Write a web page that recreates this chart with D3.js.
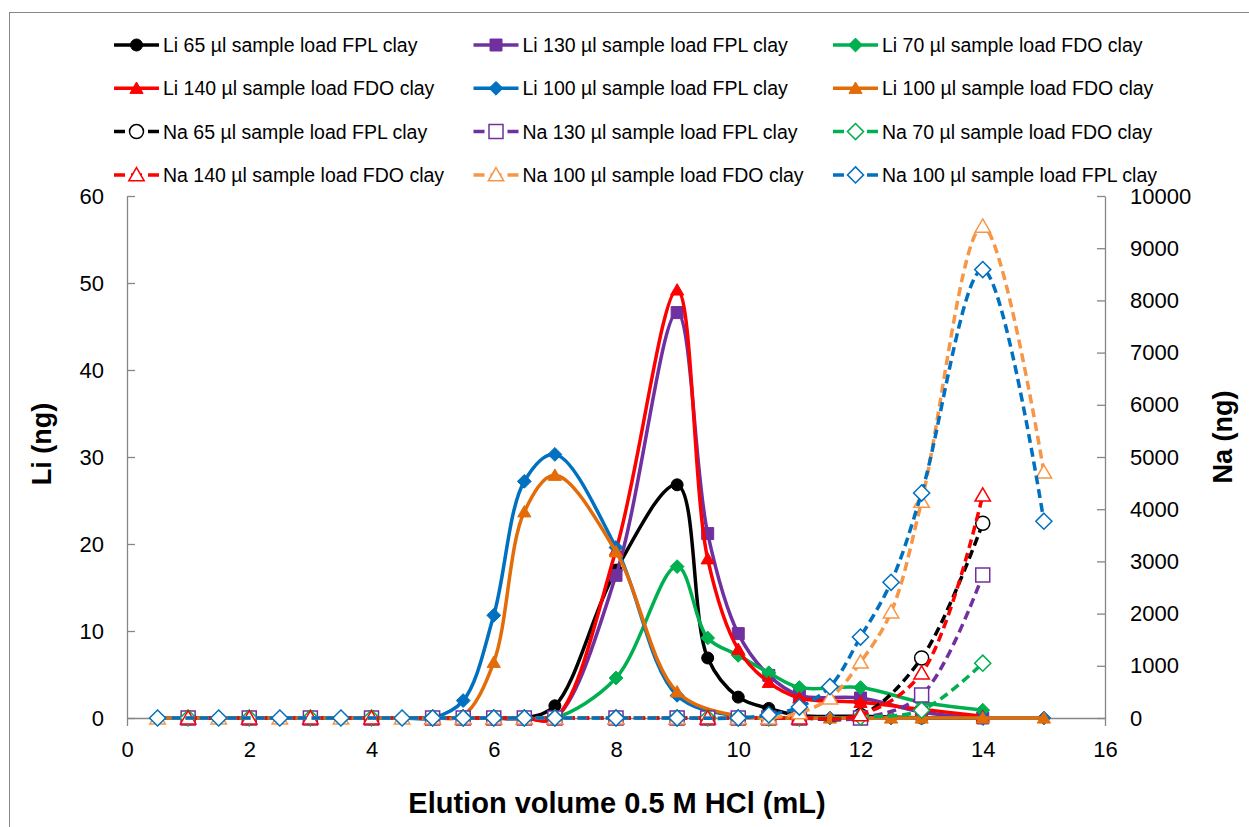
<!DOCTYPE html>
<html>
<head>
<meta charset="utf-8">
<script src="https://cdn.jsdelivr.net/npm/d3@7"></script>
<style>
    body { margin: 0; background: #fff; }
    svg { font-family: "Liberation Sans", Arial, sans-serif; }
</style>
</head>
<body>
<svg width="1249" height="827"></svg>
<script>
// elution volume grids (mL)
var xFrac = [1, 2, 3, 4, 5, 5.5, 6, 6.5, 7, 8, 9, 9.5, 10, 10.5, 11, 12, 13, 14];
var xFrac100 = [0.5, 1.5, 2.5, 3.5, 4.5, 5, 5.5, 6, 6.5, 7, 8, 9, 10, 10.5, 11, 11.5, 12, 12.5, 13, 14, 15];

// Li (ng)
var li65FPL = [0, 0, 0, 0, 0, 0, 0, 0, 1.4, 17, 26.8, 6.9, 2.4, 1.1, 0.3, 0.2, 0, 0];
var li130FPL = [0, 0, 0, 0, 0, 0, 0, 0, 0, 16.4, 46.6, 21.2, 9.7, 4.9, 2.6, 2.3, 0.7, 0];
var li70FDO = [0, 0, 0, 0, 0, 0, 0, 0, 0, 4.6, 17.4, 9.2, 7.2, 5.2, 3.5, 3.5, 1.8, 0.9];
var li140FDO = [0, 0, 0, 0, 0, 0, 0, 0, 0, 19.3, 49.2, 18.3, 7.9, 4.1, 2.3, 1.8, 1.0, 0.2];
var li100FPL = [0, 0, 0, 0, 0, 0, 2.0, 11.8, 27.2, 30.3, 19.6, 2.6, 0.2, 0, 0, 0, 0, 0, 0, 0, 0];
var li100FDO = [0, 0, 0, 0, 0, 0, 0.3, 6.4, 23.7, 27.9, 19.1, 3.0, 0.2, 0, 0, 0, 0, 0, 0, 0, 0];

// Na (ng)
var na65FPL = [0, 0, 0, 0, 0, 0, 0, 0, 0, 0, 0, 0, 0, 0, 0, 50, 1150, 3730];
var na130FPL = [0, 0, 0, 0, 0, 0, 0, 0, 0, 0, 0, 0, 0, 0, 0, 0, 440, 2740];
var na70FDO = [0, 0, 0, 0, 0, 0, 0, 0, 0, 0, 0, 0, 0, 0, 0, 20, 150, 1050];
var na140FDO = [0, 0, 0, 0, 0, 0, 0, 0, 0, 0, 0, 0, 0, 0, 0, 60, 860, 4270];
var na100FDO = [0, 0, 0, 0, 0, 0, 0, 0, 0, 0, 0, 0, 0, 0, 100, 380, 1070, 2030, 4150, 9420, 4710];
var na100FPL = [0, 0, 0, 0, 0, 0, 0, 0, 0, 0, 0, 0, 0, 60, 210, 600, 1550, 2600, 4310, 8590, 3770];

var xTicks = [0, 2, 4, 6, 8, 10, 12, 14, 16];
var liTicks = [0, 10, 20, 30, 40, 50, 60];
var naTicks = [0, 1000, 2000, 3000, 4000, 5000, 6000, 7000, 8000, 9000, 10000];

var series = [
    { name: "Li 65 µl sample load FPL clay", x: xFrac, y: li65FPL, axis: "li", color: "#000000", shape: "circle" },
    { name: "Li 130 µl sample load FPL clay", x: xFrac, y: li130FPL, axis: "li", color: "#7030A0", shape: "square" },
    { name: "Li 70 µl sample load FDO clay", x: xFrac, y: li70FDO, axis: "li", color: "#00B050", shape: "diamond" },
    { name: "Li 140 µl sample load FDO clay", x: xFrac, y: li140FDO, axis: "li", color: "#FF0000", shape: "triangle" },
    { name: "Li 100 µl sample load FPL clay", x: xFrac100, y: li100FPL, axis: "li", color: "#0070C0", shape: "diamond" },
    { name: "Li 100 µl sample load FDO clay", x: xFrac100, y: li100FDO, axis: "li", color: "#E36C09", shape: "triangle" },
    { name: "Na 65 µl sample load FPL clay", x: xFrac, y: na65FPL, axis: "na", color: "#000000", shape: "circle" },
    { name: "Na 130 µl sample load FPL clay", x: xFrac, y: na130FPL, axis: "na", color: "#7030A0", shape: "square" },
    { name: "Na 70 µl sample load FDO clay", x: xFrac, y: na70FDO, axis: "na", color: "#00B050", shape: "diamond" },
    { name: "Na 140 µl sample load FDO clay", x: xFrac, y: na140FDO, axis: "na", color: "#FF0000", shape: "triangle" },
    { name: "Na 100 µl sample load FDO clay", x: xFrac100, y: na100FDO, axis: "na", color: "#F79646", shape: "triangle" },
    { name: "Na 100 µl sample load FPL clay", x: xFrac100, y: na100FPL, axis: "na", color: "#0070C0", shape: "diamond" }
];

var svg = d3.select("svg");
var axisColor = "#868686";

var x = d3.scaleLinear().domain([0, 16]).range([127, 1105]);
var yLi = d3.scaleLinear().domain([0, 60]).range([718, 196]);
var yNa = d3.scaleLinear().domain([0, 10000]).range([718, 196]);

// chart frame (cropped at right and bottom)
svg.append("rect")
    .attr("x", 9.5).attr("y", 12.5)
    .attr("width", 1300).attr("height", 900)
    .attr("fill", "#fff")
    .attr("stroke", axisColor);

function markerPath(shape, s) {
    var h = s / 2;
    if (shape == "circle") return d3.symbol(d3.symbolCircle, Math.PI * h * h)();
    if (shape == "square") return `M${-h},${-h}H${h}V${h}H${-h}Z`;
    if (shape == "diamond") { h = h * 1.15; return `M0,${-h}L${h},0L0,${h}L${-h},0Z`; }
    // triangle
    return `M0,${-h * 1.05}L${h * 1.1},${h * 0.85}L${-h * 1.1},${h * 0.85}Z`;
}

function styleAxis(g) {
    g.select(".domain").attr("stroke", axisColor).attr("stroke-width", 1.3);
    g.selectAll(".tick line").attr("stroke", axisColor).attr("stroke-width", 1.3);
    g.selectAll(".tick text").attr("fill", "#000").attr("font-size", 22);
    g.attr("font-family", null);
}

svg.append("g")
    .attr("transform", "translate(0,718)")
    .call(d3.axisBottom(x).tickValues(xTicks).tickSizeInner(8).tickSizeOuter(0).tickPadding(15))
    .call(styleAxis);

svg.append("g")
    .attr("transform", "translate(127,0)")
    .call(d3.axisLeft(yLi).tickValues(liTicks).tickSizeInner(-8).tickSizeOuter(0).tickPadding(23))
    .call(styleAxis);

svg.append("g")
    .attr("transform", "translate(1105,0)")
    .call(d3.axisRight(yNa).tickValues(naTicks).tickFormat(d3.format("d"))
        .tickSizeInner(-8).tickSizeOuter(0).tickPadding(25))
    .call(styleAxis);

// series: solid Li lines on left axis, dashed Na lines on right axis
series.forEach(s => {
    var yScale = s.axis == "li" ? yLi : yNa;
    var pts = s.x.map((v, i) => [x(v), yScale(s.y[i])]);
    var line = d3.line().curve(d3.curveCatmullRom.alpha(0.5));
    var g = svg.append("g");
    g.append("path")
        .attr("d", line(pts))
        .attr("fill", "none")
        .attr("stroke", s.color)
        .attr("stroke-width", 3.5)
        .attr("stroke-dasharray", s.axis == "na" ? "9,5" : null);
    g.selectAll("path.mark")
        .data(pts)
        .enter()
        .append("path")
        .attr("class", "mark")
        .attr("transform", d => `translate(${d[0]},${d[1]})`)
        .attr("d", markerPath(s.shape, s.axis == "li" ? 12 : 14))
        .attr("fill", s.axis == "li" ? s.color : "#fff")
        .attr("stroke", s.color)
        .attr("stroke-width", s.axis == "li" ? 1 : 1.5);
});

// legend, 3 columns x 4 rows
var legend = svg.append("g");
series.forEach((s, i) => {
    var cx = 114 + (i % 3) * 359.5;
    var cy = 45 + Math.floor(i / 3) * 43.3;
    var g = legend.append("g").attr("transform", `translate(${cx},${cy})`);
    g.append("line")
        .attr("x1", 0).attr("x2", 45)
        .attr("stroke", s.color)
        .attr("stroke-width", 3.5)
        .attr("stroke-dasharray", s.axis == "na" ? "11,6" : null);
    g.append("path")
        .attr("transform", "translate(22.5,0)")
        .attr("d", markerPath(s.shape, s.axis == "li" ? 12 : 14))
        .attr("fill", s.axis == "li" ? s.color : "#fff")
        .attr("stroke", s.color)
        .attr("stroke-width", s.axis == "li" ? 1 : 1.5);
    g.append("text")
        .attr("x", 49)
        .attr("y", 7)
        .attr("font-size", 19.5)
        .text(s.name);
});

// axis titles
svg.append("text")
    .attr("x", 617).attr("y", 813)
    .attr("text-anchor", "middle")
    .attr("font-size", 29)
    .attr("font-weight", "bold")
    .text("Elution volume 0.5 M HCl (mL)");

svg.append("text")
    .attr("transform", "translate(51,444) rotate(-90)")
    .attr("text-anchor", "middle")
    .attr("font-size", 27)
    .attr("font-weight", "bold")
    .text("Li (ng)");

svg.append("text")
    .attr("transform", "translate(1232,437) rotate(-90)")
    .attr("text-anchor", "middle")
    .attr("font-size", 27)
    .attr("font-weight", "bold")
    .text("Na (ng)");
</script>
</body>
</html>
